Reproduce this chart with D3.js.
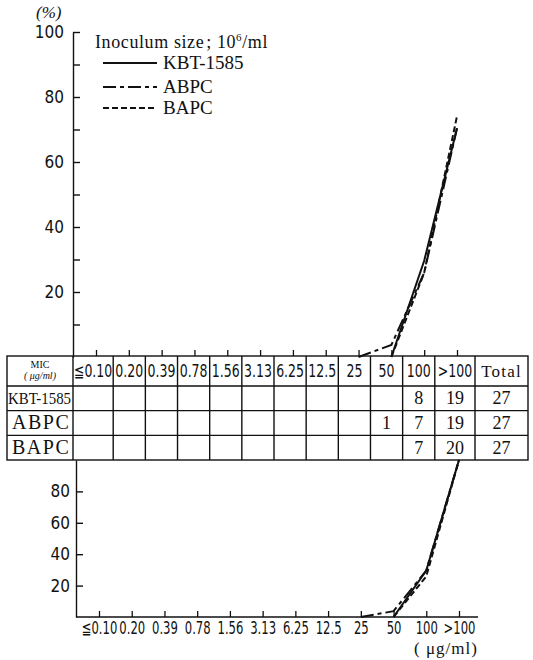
<!DOCTYPE html>
<html>
<head>
<meta charset="utf-8">
<script src="https://cdn.jsdelivr.net/npm/d3@7"></script>
<style>
body { margin: 0; background: #fff; }
svg { display: block; }
text { fill: #111; }
</style>
</head>
<body>
<div id="chart"></div>
<script>
// MIC categories (µg/ml)
const micLabels = ["≦0.10", "0.20", "0.39", "0.78", "1.56", "3.13", "6.25", "12.5", "25", "50", "100", ">100"];
const drugNames = ["KBT-1585", "ABPC", "BAPC"];

// strain counts per MIC (blank cells = null)
const kbtCounts  = [null, null, null, null, null, null, null, null, null, null, 8, 19];
const abpcCounts = [null, null, null, null, null, null, null, null, null, 1, 7, 19];
const bapcCounts = [null, null, null, null, null, null, null, null, null, null, 7, 20];
const totals = [27, 27, 27];

// upper panel: distribution (%)
const kbtDistCats  = ["50", "100", ">100"];
const kbtDist      = [0, 29.6, 70.4];
const abpcDistCats = ["25", "50", "100", ">100"];
const abpcDist     = [0, 3.7, 25.9, 70.4];
const bapcDistCats = ["50", "100", ">100"];
const bapcDist     = [0, 25.9, 74.1];

// lower panel: cumulative (%)
const kbtCumCats  = ["50", "100", ">100"];
const kbtCum      = [0, 29.6, 100];
const abpcCumCats = ["25", "50", "100", ">100"];
const abpcCum     = [0, 3.7, 29.6, 100];
const bapcCumCats = ["50", "100", ">100"];
const bapcCum     = [0, 25.9, 100];

const topTicks = [10, 20, 30, 40, 50, 60, 70, 80, 90, 100];
const lowTicks = [20, 40, 60, 80];

const dashes = { "KBT-1585": null, "ABPC": "13,4,4,4", "BAPC": "6,3" };

const svg = d3.select('#chart').append('svg')
    .attr('width', 533)
    .attr('height', 660);

svg.append('rect').attr('width', 533).attr('height', 660).attr('fill', '#fff');

const xTop = d3.scalePoint().domain(micLabels).range([96, 457]);
const yTop = d3.scaleLinear().domain([0, 100]).range([357, 32]);
const xLow = d3.scalePoint().domain(micLabels).range([99, 459]);
const yLow = d3.scaleLinear().domain([0, 100]).range([617, 460]);

const numFont = '"DejaVu Sans Condensed", "Liberation Sans Narrow", sans-serif';
const serif = '"Liberation Serif", "DejaVu Serif", serif';

// ---------- upper axes ----------
const yAxisTop = svg.append('g')
    .attr('transform', 'translate(73,0)')
    .call(d3.axisLeft(yTop).tickValues(topTicks).tickSize(-7).tickSizeOuter(0).tickPadding(9)
        .tickFormat(d => d % 20 === 0 ? d : ''));
yAxisTop.selectAll('text').style('font-family', numFont).style('font-size', '17px').attr('fill', '#111');
yAxisTop.selectAll('line, path').attr('stroke', '#111').attr('stroke-width', 1.4);

svg.append('text')
    .attr('x', 36).attr('y', 18)
    .style('font-family', serif).style('font-size', '17px').style('font-style', 'italic')
    .text('(%)');

const xAxisTop = svg.append('g')
    .attr('transform', 'translate(0,356)')
    .call(d3.axisBottom(xTop).tickSize(-6).tickFormat(''));
xAxisTop.select('.domain').remove();
xAxisTop.selectAll('line').attr('stroke', '#111').attr('stroke-width', 1.3);

// ---------- legend ----------
svg.append('text')
    .attr('x', 95).attr('y', 48)
    .style('font-family', serif).style('font-size', '18px').style('letter-spacing', '0.6px')
    .html('Inoculum size<tspan dx="2">;</tspan><tspan dx="5">10</tspan><tspan dy="-7" font-size="11px">6</tspan><tspan dy="7">/ml</tspan>');

const legend = svg.append('g');
drugNames.forEach((name, i) => {
    const ly = [63, 87, 108][i];
    legend.append('line')
        .attr('x1', 103).attr('x2', 157).attr('y1', ly).attr('y2', ly)
        .attr('stroke', '#111').attr('stroke-width', 2.2)
        .attr('stroke-dasharray', dashes[name]);
    legend.append('text')
        .attr('x', 163).attr('y', ly + 6)
        .style('font-family', serif).style('font-size', '19px')
        .text(name);
});

// ---------- curves ----------
function drawSeries(xs, ys, cats, vals, name) {
    const pts = cats.map((c, i) => [c, vals[i]]);
    svg.append('path')
        .datum(pts)
        .attr('fill', 'none')
        .attr('stroke', '#111')
        .attr('stroke-width', 2)
        .attr('stroke-dasharray', dashes[name])
        .attr('d', d3.line().x(d => xs(d[0])).y(d => ys(d[1])));
}
drawSeries(xTop, yTop, kbtDistCats, kbtDist, "KBT-1585");
drawSeries(xTop, yTop, abpcDistCats, abpcDist, "ABPC");
drawSeries(xTop, yTop, bapcDistCats, bapcDist, "BAPC");

drawSeries(xLow, yLow, kbtCumCats, kbtCum, "KBT-1585");
drawSeries(xLow, yLow, abpcCumCats, abpcCum, "ABPC");
drawSeries(xLow, yLow, bapcCumCats, bapcCum, "BAPC");

// ---------- table ----------
const colX = d3.scaleLinear().domain([0, 12.5]).range([73, 475]);
const colStart = i => i === 0 ? 0 : i + 0.25;
const colEnd = i => i === micLabels.length - 1 ? 12.5 : i + 1.25;
const colMid = i => (colX(colStart(i)) + colX(colEnd(i))) / 2;

const tableLeft = 7, tableRight = 528, tableTop = 356, headH = 30;
const rowY = d3.scaleLinear().domain([0, 3]).range([tableTop + headH, 460]);

const table = svg.append('g').attr('stroke', '#111').attr('stroke-width', 1.4);
table.append('rect')
    .attr('x', tableLeft).attr('y', tableTop)
    .attr('width', tableRight - tableLeft).attr('height', rowY(3) - tableTop)
    .attr('fill', 'none');
[0, 1, 2].forEach(r => {
    table.append('line')
        .attr('x1', tableLeft).attr('x2', tableRight)
        .attr('y1', rowY(r)).attr('y2', rowY(r));
});
const vEdges = [0].concat(micLabels.map((m, i) => colEnd(i)));
vEdges.forEach(u => {
    table.append('line')
        .attr('x1', colX(u)).attr('x2', colX(u))
        .attr('y1', tableTop).attr('y2', rowY(3));
});

// header
svg.append('text').attr('x', 40).attr('y', 368).attr('text-anchor', 'middle')
    .style('font-family', serif).style('font-size', '10px').text('MIC');
svg.append('text').attr('x', 40).attr('y', 379).attr('text-anchor', 'middle')
    .style('font-family', serif).style('font-size', '10px').style('font-style', 'italic').text('( μg/ml)');

svg.selectAll('.head')
    .data(micLabels)
    .enter()
    .append('text')
    .attr('class', 'head')
    .attr('transform', (d, i) => `translate(${colMid(i)},377) scale(0.82,1)`)
    .attr('text-anchor', 'middle')
    .style('font-family', numFont)
    .style('font-size', '17px')
    .text(d => d);

svg.append('text').attr('x', (475 + tableRight) / 2).attr('y', 377).attr('text-anchor', 'middle')
    .style('font-family', serif).style('font-size', '17px').style('letter-spacing', '1.2px').text('Total');

// rows
const rowCounts = [kbtCounts, abpcCounts, bapcCounts];
drugNames.forEach((name, r) => {
    const cy = (rowY(r) + rowY(r + 1)) / 2 + 6;
    const lbl = svg.append('text')
        .attr('x', name === 'KBT-1585' ? 8 : 12).attr('y', cy)
        .style('font-family', serif)
        .style('font-size', name === 'KBT-1585' ? '16px' : '20px')
        .style('letter-spacing', name === 'KBT-1585' ? '0px' : '1.5px')
        .text(name);
    if (name === 'KBT-1585') lbl.attr('textLength', 63).attr('lengthAdjust', 'spacingAndGlyphs');

    svg.selectAll('.cnt' + r)
        .data(rowCounts[r].map((v, i) => ({ v, i })).filter(d => d.v !== null))
        .enter()
        .append('text')
        .attr('x', d => colMid(d.i))
        .attr('y', cy)
        .attr('text-anchor', 'middle')
        .style('font-family', serif)
        .style('font-size', '18px')
        .text(d => d.v);

    svg.append('text')
        .attr('x', (475 + tableRight) / 2).attr('y', cy)
        .attr('text-anchor', 'middle')
        .style('font-family', serif).style('font-size', '18px')
        .text(totals[r]);
});

// ---------- lower axes ----------
const yAxisLow = svg.append('g')
    .attr('transform', 'translate(76,0)')
    .call(d3.axisLeft(yLow).tickValues(lowTicks).tickSize(-7).tickSizeOuter(0).tickPadding(6));
yAxisLow.selectAll('text').style('font-family', numFont).style('font-size', '17px').attr('fill', '#111');
yAxisLow.selectAll('line, path').attr('stroke', '#111').attr('stroke-width', 1.4);

svg.append('line')
    .attr('x1', 76).attr('x2', 478).attr('y1', yLow(0)).attr('y2', yLow(0))
    .attr('stroke', '#111').attr('stroke-width', 1.6);

const xAxisLow = svg.append('g')
    .attr('transform', `translate(0,${yLow(0)})`)
    .call(d3.axisBottom(xLow).tickSize(-6).tickPadding(5));
xAxisLow.select('.domain').remove();
xAxisLow.selectAll('line').attr('stroke', '#111').attr('stroke-width', 1.3);
xAxisLow.selectAll('text')
    .attr('transform', 'scale(0.76,1)')
    .style('font-family', numFont).style('font-size', '17px').attr('fill', '#111');

svg.append('text')
    .attr('x', 446).attr('y', 654).attr('text-anchor', 'middle')
    .style('font-family', serif).style('font-size', '17px').style('letter-spacing', '1px')
    .text('( μg/ml)');
</script>
</body>
</html>
